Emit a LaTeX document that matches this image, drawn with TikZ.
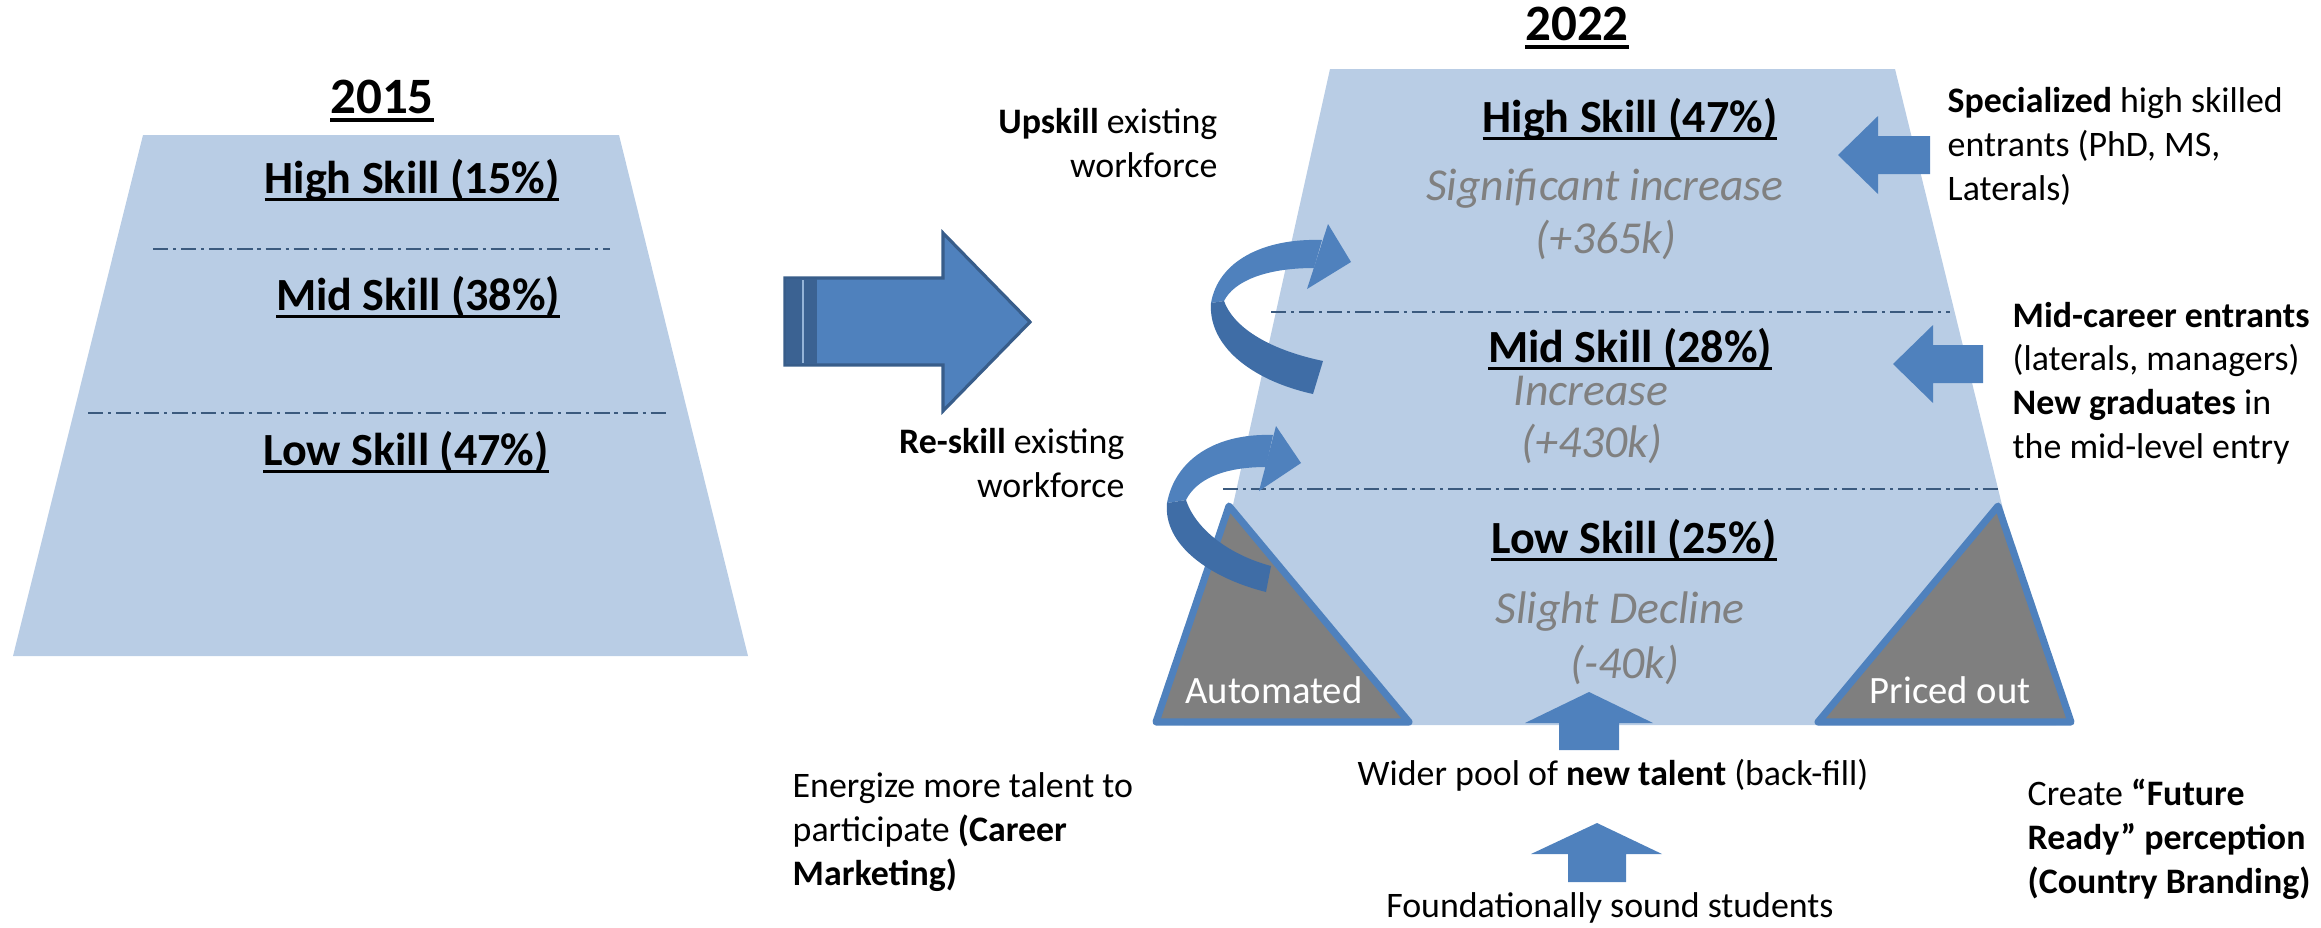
\documentclass[tikz,border=0pt]{standalone}
\usepackage{fontspec}
\setmainfont{Carlito}

\definecolor{pyramidfill}{HTML}{B9CDE5}
\definecolor{arrowblue}{HTML}{4F81BD}
\definecolor{arrowshade}{HTML}{3F6DA6}
\definecolor{arrowedge}{HTML}{385D8A}
\definecolor{splitline}{HTML}{3B5A7E}
\definecolor{lostgray}{HTML}{7F7F7F}
\definecolor{changegray}{HTML}{808080}

% underline sitting just under the baseline
\newcommand{\underln}[1]{\setbox0=\hbox{#1}\rlap{\rule[-0.17em]{\wd0}{0.065em}}\box0}

\begin{document}
\begin{tikzpicture}[x=0.01cm, y=-0.01cm,
    title/.style={font=\fontsize{14.5}{17}\selectfont\bfseries, anchor=base, inner sep=0pt},
    skill/.style={font=\fontsize{13.1}{16}\selectfont\bfseries, anchor=base, inner sep=0pt},
    change/.style={font=\fontsize{13}{16}\selectfont\itshape, text=changegray, anchor=base, inner sep=0pt},
    note/.style={font=\fontsize{10.2}{12.4}\selectfont, inner sep=0pt},
    split/.style={draw=splitline, line width=0.8pt, dash pattern=on 4.3pt off 1.4pt on 0.9pt off 1.4pt},
    lost/.style={fill=lostgray, draw=arrowblue, line width=2pt, line join=round},
    losttag/.style={font=\fontsize{11}{13}\selectfont, text=white, anchor=base, inner sep=0pt},
]
\useasboundingbox (0,0) rectangle (2321,927);

% 2015 pyramid (left)
\fill[pyramidfill] (143,135) -- (619,135) -- (748,656) -- (13,656) -- cycle;
\draw[split] (153,249) -- (610,249);
\draw[split] (88,413) -- (667,413);
\node[title] (y15) at (382,113) {\underln{2015}};
\node[skill] (hi15) at (412,193) {\underln{High Skill (15\%)}};
\node[skill] (mid15) at (418,310) {\underln{Mid Skill (38\%)}};
\node[skill] (lo15) at (406,465) {\underln{Low Skill (47\%)}};

% big arrow between the two years
\filldraw[fill=arrowblue, draw=arrowedge, line width=0.9pt]
    (785,278) -- (943,278) -- (943,233) -- (1030,322) -- (943,411) -- (943,365) -- (785,365) -- cycle;
\fill[arrowedge!85!arrowblue] (786,279) rectangle (817,364);
\draw[arrowblue!60!white, line width=0.6pt] (803,280) -- (803,363);

% 2022 pyramid (right)
\fill[pyramidfill] (1330,69) -- (1895,69) -- (2056,725) -- (1184,725) -- cycle;
\draw[split] (1271,312) -- (1950,312);
\draw[split] (1223,489) -- (2000,489);

% corners taken out of the low skill band
\filldraw[lost] (1229,506) -- (1409,722) -- (1156,722) -- cycle;
\filldraw[lost] (1998,506) -- (2071,722) -- (1818,722) -- cycle;
\node[losttag] (auto) at (1274,703) {Automated};
\node[losttag] (priced) at (1950,703) {Priced out};

\node[title] (y22) at (1577,40) {\underln{2022}};
\node[skill] (hi22) at (1630,132) {\underln{High Skill (47\%)}};
\node[change] (hi22a) at (1605,200) {Significant increase};
\node[change] (hi22b) at (1606,253) {(+365k)};
\node[skill] (mid22) at (1630,362) {\underln{Mid Skill (28\%)}};
\node[change] (mid22a) at (1591,405) {Increase};
\node[change] (mid22b) at (1592,457) {(+430k)};
\node[skill] (lo22) at (1634,553) {\underln{Low Skill (25\%)}};
\node[change] (lo22a) at (1620,623) {Slight Decline};
\node[change] (lo22b) at (1625,678) {(-40k)};

% upskill loop (mid -> high)
\fill[arrowblue] (1322,240) .. controls (1262,238) and (1218,262) .. (1211,303)
    -- (1224,301) .. controls (1234,281) and (1266,268) .. (1314,268) -- cycle;
\fill[arrowshade] (1211,303) .. controls (1208,345) and (1250,380) .. (1313,394)
    -- (1323,361) .. controls (1266,349) and (1233,326) .. (1224,301) -- cycle;
\fill[arrowblue] (1328,224) -- (1351,262) -- (1307,289) -- cycle;

% reskill loop (low -> mid)
\fill[arrowblue] (1273,435) .. controls (1215,433) and (1175,460) .. (1167,503)
    -- (1186,500) .. controls (1196,480) and (1222,467) .. (1266,467) -- cycle;
\fill[arrowshade] (1167,503) .. controls (1163,545) and (1210,578) .. (1266,592)
    -- (1271,566) .. controls (1230,555) and (1196,530) .. (1186,500) -- cycle;
\fill[arrowblue] (1276,426) -- (1301,463) -- (1259,491) -- cycle;

% entrants from outside (pointing left)
\fill[arrowblue] (1930,136) -- (1878,136) -- (1878,116) -- (1838,155) -- (1878,194) -- (1878,174) -- (1930,174) -- cycle;
\fill[arrowblue] (1983,345) -- (1933,345) -- (1933,325) -- (1893,364) -- (1933,403) -- (1933,383) -- (1983,383) -- cycle;

% back-fill from below
\fill[arrowblue] (1559,750) -- (1559,723) -- (1525,723) -- (1589,692) -- (1653,723) -- (1619,723) -- (1619,750) -- cycle;
\fill[arrowblue] (1568,882) -- (1568,854) -- (1531,854) -- (1597,823) -- (1662,854) -- (1626,854) -- (1626,882) -- cycle;

% side notes (multi-line ones sit on their last baseline)
\node[note, align=right, anchor=base east] (upskill) at (1218,177) {\textbf{Upskill} existing\\workforce};
\node[note, align=right, anchor=base east] (reskill) at (1125,497) {\textbf{Re-skill} existing\\workforce};
\node[note, align=left, anchor=base west] (special) at (1947,200) {\textbf{Specialized} high skilled\\entrants (PhD, MS,\\Laterals)};
\node[note, align=left, anchor=base west] (midcareer) at (2012,458) {\textbf{Mid-career entrants}\\(laterals, managers)\\\textbf{New graduates} in\\the mid-level entry};
\node[note, align=left, anchor=base west] (energize) at (792,885) {Energize more talent to\\participate \textbf{(Career}\\\textbf{Marketing)}};
\node[note, align=left, anchor=base west] (brand) at (2027,893) {Create \textbf{“Future}\\\textbf{Ready” perception}\\\textbf{(Country Branding)}};
\node[note, anchor=base] (pool) at (1613,785) {Wider pool of \textbf{new talent} (back-fill)};
\node[note, anchor=base] (found) at (1610,917) {Foundationally sound students};

\end{tikzpicture}
\end{document}
